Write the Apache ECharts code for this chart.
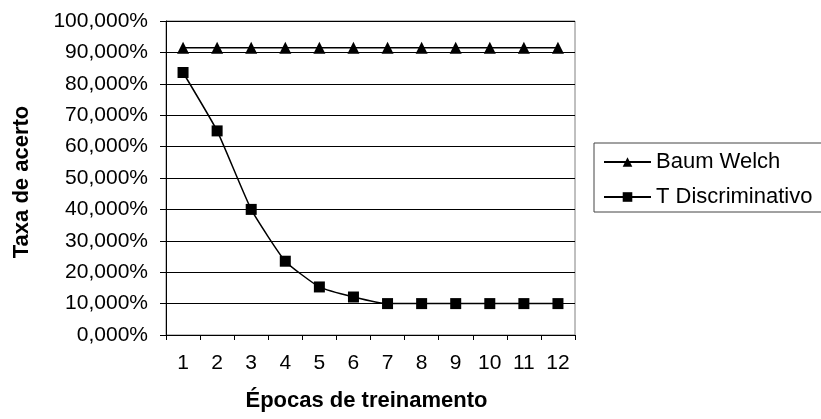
<!DOCTYPE html>
<html>
<head>
<meta charset="utf-8">
<script src="https://cdn.jsdelivr.net/npm/echarts@6/dist/echarts.min.js"></script>
<style>html,body{margin:0;padding:0;background:#fff;}#c{width:821px;height:419px;}</style>
</head>
<body>
<div id="c"></div>
<script>
const categories = ['1','2','3','4','5','6','7','8','9','10','11','12'];
const baumWelch = [91.5,91.5,91.5,91.5,91.5,91.5,91.5,91.5,91.5,91.5,91.5,91.5];
const tDiscriminativo = [83.6,65.0,40.0,23.5,15.3,12.1,10.0,10.0,10.0,10.0,10.0,10.0];
const yMin = 0, yMax = 100, yStep = 10;

const FONT = '"Liberation Sans", Arial, sans-serif';
const chart = echarts.init(document.getElementById('c'), null, {renderer: 'canvas'});
chart.setOption({
  animation: false,
  backgroundColor: '#fff',
  textStyle: {fontFamily: FONT, color: '#000'},
  grid: {left: 166, right: 246, top: 21, bottom: 84, show: true, borderColor: '#808080', borderWidth: 1, backgroundColor: 'transparent'},
  legend: {
    orient: 'vertical', left: 594, top: 143,
    padding: [8, 40, 4, 9], itemGap: 13,
    itemWidth: 47, itemHeight: 12,
    borderColor: '#444', borderWidth: 1,
    textStyle: {fontFamily: FONT, fontSize: 22, color: '#000', lineHeight: 22},
    data: ['Baum Welch', 'T Discriminativo']
  },
  xAxis: {
    type: 'category', data: categories, boundaryGap: true,
    name: 'Épocas de treinamento', nameLocation: 'middle', nameGap: 55,
    nameTextStyle: {fontFamily: FONT, fontSize: 22, fontWeight: 'bold', color: '#000', padding: [0, 8, 0, 0]},
    axisLine: {lineStyle: {color: '#000', width: 1}},
    axisTick: {show: true, length: 5, lineStyle: {color: '#000'}, alignWithLabel: false},
    axisLabel: {fontFamily: FONT, fontSize: 21, color: '#000', margin: 18, interval: 0},
    splitLine: {show: false}
  },
  yAxis: {
    type: 'value', min: yMin, max: yMax, interval: yStep,
    name: 'Taxa de acerto', nameLocation: 'middle', nameGap: 133, nameRotate: 90,
    nameTextStyle: {fontFamily: FONT, fontSize: 22, fontWeight: 'bold', color: '#000', padding: [0, 8, 0, 0]},
    axisLine: {show: true, lineStyle: {color: '#000', width: 1}},
    axisTick: {show: true, length: 6, lineStyle: {color: '#000'}},
    axisLabel: {fontFamily: FONT, fontSize: 21, color: '#000', margin: 18,
      formatter: v => v.toFixed(3).replace('.', ',') + '%'},
    splitLine: {show: true, lineStyle: {color: '#000', width: 1}}
  },
  series: [
    {name: 'Baum Welch', type: 'line', data: baumWelch, symbol: 'triangle', symbolSize: 12,
      lineStyle: {color: '#000', width: 1.5}, itemStyle: {color: '#000'}},
    {name: 'T Discriminativo', type: 'line', data: tDiscriminativo, symbol: 'rect', symbolSize: 11,
      smooth: 0.15, lineStyle: {color: '#000', width: 1.5}, itemStyle: {color: '#000'}}
  ]
});
</script>
</body>
</html>
